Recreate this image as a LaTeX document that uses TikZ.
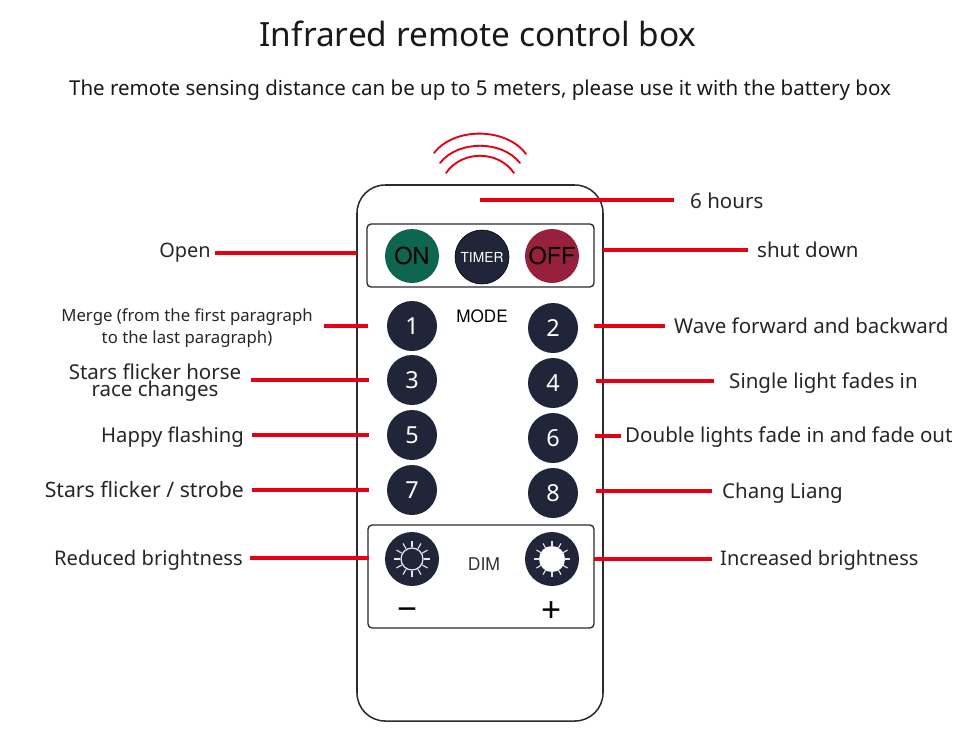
\documentclass[tikz,border=0pt]{standalone}
\usepackage{fontspec}
\setmainfont{Noto Sans}
\newfontfamily\keyfont{TeX Gyre Heros}
\usetikzlibrary{calc}
\definecolor{keydark}{HTML}{20253A}
\definecolor{keygreen}{HTML}{0F6650}
\definecolor{keyred}{HTML}{97203D}
\definecolor{linered}{HTML}{E60012}
\definecolor{boxline}{HTML}{2A2A30}
\newcommand{\fpx}[1]{\fontsize{#1}{#1}\selectfont}
\tikzset{
  redline/.style={linered, line width=2.6pt},
  wave/.style={linered, line width=1.6pt, line cap=round},
  keybtn/.style={circle, fill=keydark, minimum size=50*0.03cm, inner sep=0pt, text=white, font=\fpx{20}},
  topbtn/.style={circle, minimum size=54*0.03cm, inner sep=0pt, font=\keyfont\fpx{20}},
  lbl/.style={inner sep=0pt, text=black!85, font=\fpx{17.5}, text height=15.4pt, text depth=2pt},
  panel/.style={draw=boxline, line width=1.15pt, rounded corners=3.5pt},
  ray/.style={white!88!keydark, line width=1pt},
}
\begin{document}
\begin{tikzpicture}[x=0.03cm, y=-0.03cm]
\useasboundingbox (0,0) rectangle (959,743);
\node[font=\fpx{28.5}, text=black!90] (title) at (478,34) {Infrared remote control box};
\node[font=\fpx{17.5}, text=black!90] (subtitle) at (480,90) {The remote sensing distance can be up to 5 meters, please use it with the battery box};
% signal waves
\draw[wave] (434,153) .. controls (454,127) and (506,127) .. (526,154);
\draw[wave] (440,163) .. controls (458,140) and (502,140) .. (520,163);
\draw[wave] (446,173) .. controls (462,150) and (498,150) .. (514,173);
% remote body
\node[draw=boxline, line width=1.3pt, rounded corners=24pt, minimum width=246*0.03cm, minimum height=536*0.03cm, inner sep=0pt] (body) at (480,453) {};
\node[panel, minimum width=227*0.03cm, minimum height=63*0.03cm, inner sep=0pt] (toppanel) at (480.5,255.5) {};
\node[panel, minimum width=226*0.03cm, minimum height=103*0.03cm, inner sep=0pt] (dimpanel) at (481,576.5) {};
% buttons
\node[topbtn, fill=keygreen, text=black] (on) at (412,256) {ON};
\node[topbtn, fill=keydark, draw=black, line width=0.5pt, text=white, font=\keyfont\fpx{11.8}] (timer) at (482,257) {TIMER};
\node[topbtn, fill=keyred, text=black] (off) at (552,256) {OFF};
\node[keybtn] (k1) at (412,326) {1};
\node[keybtn] (k3) at (412,380) {3};
\node[keybtn] (k5) at (412,435) {5};
\node[keybtn] (k7) at (412,490) {7};
\node[keybtn] (k2) at (553,328) {2};
\node[keybtn] (k4) at (553,383) {4};
\node[keybtn] (k6) at (553,438) {6};
\node[keybtn] (k8) at (553,493) {8};
\node[font=\keyfont\fpx{14.6}, text=black] (mode) at (482,316) {MODE};
\node[font=\keyfont\fpx{15}, text=black!80] (dim) at (484,564) {DIM};
% brightness keys
\node[topbtn, fill=keydark] (dimdown) at (412,559) {};
\node[topbtn, fill=keydark] (dimup) at (552,559) {};
\draw[ray, line width=1.1pt] (dimdown) circle (11);
\fill[white] (dimup) circle (13);
\foreach \k in {dimdown,dimup} {
  \foreach \a in {0,90,180,270} \draw[ray] ($(\k)+(\a:12)$) -- ($(\k)+(\a:18)$);
  \foreach \a in {30,60,120,150,210,240,300,330} \draw[ray] ($(\k)+(\a:12)$) -- ($(\k)+(\a:18)$);
}
\node[font=\fpx{30}, text=black] (minus) at (408,615) {\textminus};
\node[font=\fpx{30}, text=black] (plus) at (552,612) {+};
% left labels
\node[lbl, anchor=east, font=\fpx{17}] (open) at (211,250) {Open};
\node[font=\fpx{14.3}, align=center, text=black!85, inner sep=0pt] (merge) at (187,328) {Merge (from the first paragraph\\[4pt]to the last paragraph)};
\node[font=\fpx{17.5}, align=center, text=black!85, inner sep=0pt] (race) at (155,383) {Stars flicker horse\\[-3pt]race changes};
\node[lbl, anchor=east, font=\fpx{17.3}] (happy) at (244,435) {Happy flashing};
\node[lbl, anchor=east, font=\fpx{18.1}] (strobe) at (244,490) {Stars flicker / strobe};
\node[lbl, anchor=east, font=\fpx{17.2}] (reduced) at (243,558) {Reduced brightness};
% right labels
\node[lbl, anchor=west] (hours) at (690,201) {6 hours};
\node[lbl, anchor=west] (shut) at (757,250) {shut down};
\node[lbl, anchor=west] (wave) at (674,326) {Wave forward and backward};
\node[lbl, anchor=west] (fadein) at (729,381) {Single light fades in};
\node[lbl, anchor=west] (fadeout) at (625,435) {Double lights fade in and fade out};
\node[lbl, anchor=west] (chang) at (722,491) {Chang Liang};
\node[lbl, anchor=west, font=\fpx{17.1}] (increased) at (720,558) {Increased brightness};
% connector ends
\coordinate (tipopen) at (357,253);
\coordinate (tipmerge) at (368,326);
\coordinate (tiprace) at (369,380);
\coordinate (tiphappy) at (369,435);
\coordinate (tipstrobe) at (369,490);
\coordinate (tipreduced) at (369,558);
\coordinate (tiphours) at (480,200);
\coordinate (tipshut) at (603,250);
\coordinate (tipwave) at (594,326);
\coordinate (tipfadein) at (596,381);
\coordinate (tipfadeout) at (595,436);
\coordinate (tipchang) at (596,491);
\coordinate (tipincreased) at (594,559);
% connectors
\draw[redline, shorten <=4*0.03cm] (open.east |- tipopen) -- (tipopen);
\draw[redline, shorten <=11*0.03cm] (merge.east |- tipmerge) -- (tipmerge);
\draw[redline, shorten <=10*0.03cm] (race.east |- tiprace) -- (tiprace);
\draw[redline, shorten <=8*0.03cm] (happy.east |- tiphappy) -- (tiphappy);
\draw[redline, shorten <=8*0.03cm] (strobe.east |- tipstrobe) -- (tipstrobe);
\draw[redline, shorten <=7*0.03cm] (reduced.east |- tipreduced) -- (tipreduced);
\draw[redline, shorten <=16*0.03cm] (hours.west |- tiphours) -- (tiphours);
\draw[redline, shorten <=9*0.03cm] (shut.west |- tipshut) -- (tipshut);
\draw[redline, shorten <=9*0.03cm] (wave.west |- tipwave) -- (tipwave);
\draw[redline, shorten <=15*0.03cm] (fadein.west |- tipfadein) -- (tipfadein);
\draw[redline, shorten <=4*0.03cm] (fadeout.west |- tipfadeout) -- (tipfadeout);
\draw[redline, shorten <=10*0.03cm] (chang.west |- tipchang) -- (tipchang);
\draw[redline, shorten <=8*0.03cm] (increased.west |- tipincreased) -- (tipincreased);
\end{tikzpicture}
\end{document}
